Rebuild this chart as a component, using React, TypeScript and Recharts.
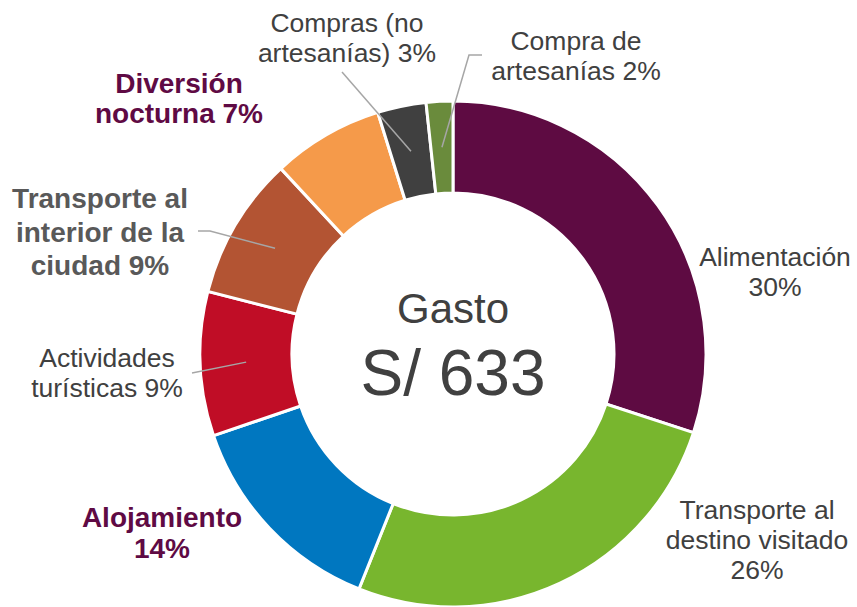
import React from 'react';
import { PieChart, Pie, Cell, Label } from 'recharts';

const categories = [
  'Alimentación',
  'Transporte al destino visitado',
  'Alojamiento',
  'Actividades turísticas',
  'Transporte al interior de la ciudad',
  'Diversión nocturna',
  'Compras (no artesanías)',
  'Compra de artesanías',
];
const shares = [30, 26, 13.7, 9.2, 9.1, 7.1, 3.1, 1.7];
const labelLines = [
  ['Alimentación'],
  ['Transporte al', 'destino visitado'],
  ['Alojamiento'],
  ['Actividades', 'turísticas'],
  ['Transporte al', 'interior de la', 'ciudad'],
  ['Diversión', 'nocturna'],
  ['Compras (no', 'artesanías)'],
  ['Compra de', 'artesanías'],
];
const centerTitle = 'Gasto';
const totalSpend = 633;
const currency = 'S/';

const colors = ['#5E0B42', '#78B62E', '#0077C0', '#C00D26', '#B35433', '#F59A4A', '#404040', '#6A8B3C'];

const FONT = '"Liberation Sans", Arial, Helvetica, sans-serif';
const PURPLE = '#5F0A44';

type Lay = {
  x: number;
  y: number;
  lh: number;
  bold: boolean;
  color: string;
  pctOwnLine: boolean;
  leader: number[][] | null;
};

const layout: Lay[] = [
  { x: 775, y: 266, lh: 30, bold: false, color: '#404040', pctOwnLine: true, leader: null },
  { x: 757, y: 519, lh: 30, bold: false, color: '#404040', pctOwnLine: true, leader: null },
  { x: 162, y: 527, lh: 31, bold: true, color: PURPLE, pctOwnLine: true, leader: null },
  { x: 107, y: 367, lh: 30, bold: false, color: '#404040', pctOwnLine: false, leader: [[192, 373]] },
  { x: 100, y: 208, lh: 33.5, bold: true, color: '#595959', pctOwnLine: false, leader: [[198, 231], [210, 231]] },
  { x: 179, y: 93, lh: 30, bold: true, color: PURPLE, pctOwnLine: false, leader: null },
  { x: 347, y: 32, lh: 30, bold: false, color: '#404040', pctOwnLine: false, leader: [[342, 72]] },
  { x: 576, y: 50, lh: 30, bold: false, color: '#404040', pctOwnLine: false, leader: [[482, 55], [469, 55]] },
];

const data = categories.map((name, i) => ({ name, value: shares[i] }));

const RAD = Math.PI / 180;

function renderLabel(props: any) {
  const { cx, cy, midAngle, innerRadius, outerRadius, index, value } = props;
  const lay = layout[index];
  const lines = [...labelLines[index]];
  const pct = `${Math.round(value)}%`;
  if (lay.pctOwnLine) lines.push(pct);
  else lines[lines.length - 1] = lines[lines.length - 1] + ' ' + pct;
  let leader = null;
  if (lay.leader) {
    const r = (Number(innerRadius) + Number(outerRadius)) / 2;
    const ex = cx + r * Math.cos(-midAngle * RAD);
    const ey = cy + r * Math.sin(-midAngle * RAD);
    const pts = [...lay.leader, [ex, ey]].map((p) => p.join(',')).join(' ');
    leader = <polyline points={pts} fill="none" stroke="#A6A6A6" strokeWidth={1.5} />;
  }
  return (
    <g key={`lbl-${index}`}>
      {leader}
      <text
        textAnchor="middle"
        fontFamily={FONT}
        fontSize={lay.bold ? 28 : 26.5}
        fontWeight={lay.bold ? 'bold' : 'normal'}
        fill={lay.color}
      >
        {lines.map((l, i) => (
          <tspan key={i} x={lay.x} y={lay.y + i * lay.lh}>
            {l}
          </tspan>
        ))}
      </text>
    </g>
  );
}

function CenterLabel(props: any) {
  const vb = props.viewBox || {};
  const cx = vb.cx ?? 453;
  const cy = vb.cy ?? 353;
  return (
    <g>
      <text x={cx} y={cy - 30} textAnchor="middle" fontFamily={FONT} fontSize={42} fill="#404040">
        {centerTitle}
      </text>
      <text x={cx} y={cy + 42} textAnchor="middle" fontFamily={FONT} fontSize={64} fill="#404040">
        {`${currency} ${totalSpend}`}
      </text>
    </g>
  );
}

export default function App() {
  return (
    <div style={{ position: 'absolute', left: 0, top: 0, width: 857, height: 607, background: '#fff' }}>
      <PieChart width={857} height={607} margin={{ top: 0, right: 0, bottom: 0, left: 0 }}>
        <Pie
          data={data}
          dataKey="value"
          nameKey="name"
          cx={453}
          cy={354}
          innerRadius={161}
          outerRadius={253}
          startAngle={90}
          endAngle={-270}
          stroke="#ffffff"
          strokeWidth={3}
          isAnimationActive={false}
          label={renderLabel}
          labelLine={false}
        >
          {data.map((d, i) => (
            <Cell key={d.name} fill={colors[i]} />
          ))}
          <Label position="center" content={<CenterLabel />} />
        </Pie>
      </PieChart>
    </div>
  );
}
